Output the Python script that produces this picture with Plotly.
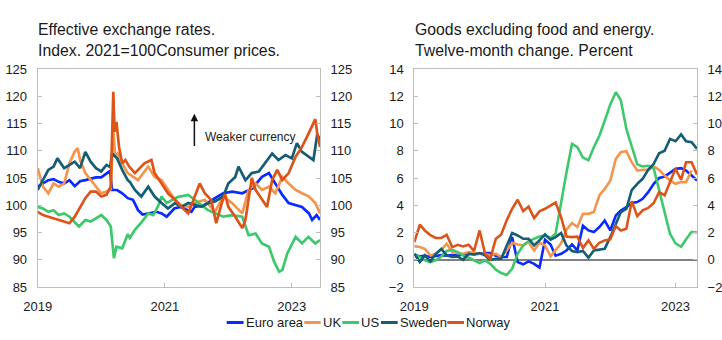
import pandas as pd
import plotly.graph_objects as go

# ---------------- Left panel: effective exchange rates (decimal year -> index) ----------
euro_t = [2019.0, 2019.083, 2019.167, 2019.25, 2019.33, 2019.417, 2019.5, 2019.583, 2019.667, 2019.75,
          2019.833, 2019.917, 2020.0, 2020.083, 2020.14, 2020.17, 2020.25, 2020.33, 2020.417, 2020.5,
          2020.58, 2020.65, 2020.74, 2020.87, 2020.95, 2021.03, 2021.15, 2021.25, 2021.36, 2021.42,
          2021.47, 2021.62, 2021.79, 2021.92, 2022.06, 2022.22, 2022.38, 2022.53, 2022.64, 2022.74,
          2022.85, 2022.95, 2023.06, 2023.16, 2023.27, 2023.32, 2023.39, 2023.445]
euro_v = [103.4, 104.0, 104.6, 104.8, 104.3, 104.0, 104.6, 103.5, 104.4, 104.6,
          104.8, 105.1, 105.1, 105.9, 106.3, 102.8, 102.8, 102.2, 101.3, 101.0,
          99.1, 98.3, 98.5, 98.8, 98.5, 97.9, 99.4, 99.7, 99.1, 98.8,
          99.7, 100.0, 101.3, 102.2, 102.5, 102.2, 103.1, 105.2, 105.9, 104.0,
          101.9, 100.4, 100.0, 99.7, 98.5, 97.3, 98.2, 97.3]

uk_t = [2019.0, 2019.083, 2019.167, 2019.25, 2019.33, 2019.417, 2019.5, 2019.58, 2019.63, 2019.667,
        2019.75, 2019.833, 2019.917, 2020.0, 2020.083, 2020.15, 2020.19, 2020.22, 2020.26, 2020.33,
        2020.417, 2020.58, 2020.74, 2020.84, 2020.95, 2021.05, 2021.16, 2021.26, 2021.37, 2021.47,
        2021.63, 2021.79, 2021.92, 2022.06, 2022.22, 2022.32, 2022.43, 2022.53, 2022.64, 2022.74,
        2022.85, 2022.95, 2023.06, 2023.16, 2023.27, 2023.37, 2023.445]
uk_v = [106.8, 103.4, 102.2, 104.0, 103.4, 104.0, 107.7, 109.8, 110.5, 108.3,
        105.9, 104.6, 103.4, 102.2, 102.5, 103.0, 113.8, 108.9, 109.5, 107.7,
        105.9, 104.6, 107.1, 105.2, 104.6, 102.8, 101.0, 100.0, 99.7, 100.4,
        101.0, 98.8, 101.6, 100.4, 98.5, 102.8, 104.0, 102.8, 103.4, 102.2,
        105.2, 104.0, 102.8, 102.2, 101.6, 100.4, 98.5]

us_t = [2019.0, 2019.083, 2019.167, 2019.25, 2019.33, 2019.417, 2019.5, 2019.583, 2019.65, 2019.75,
        2019.833, 2019.917, 2020.0, 2020.083, 2020.15, 2020.2, 2020.24, 2020.33, 2020.417, 2020.45,
        2020.53, 2020.63, 2020.74, 2020.82, 2020.9, 2020.95, 2021.03, 2021.2, 2021.37, 2021.47,
        2021.68, 2021.92, 2022.06, 2022.22, 2022.32, 2022.43, 2022.53, 2022.64, 2022.72, 2022.8,
        2022.85, 2022.93, 2023.02, 2023.06, 2023.16, 2023.26, 2023.37, 2023.445]
us_v = [99.7, 99.4, 98.8, 99.1, 98.2, 98.5, 97.9, 97.0, 96.1, 97.3,
        97.0, 97.6, 98.2, 97.3, 96.1, 90.3, 92.4, 92.1, 94.7, 94.0,
        95.5, 96.8, 98.5, 98.2, 100.0, 101.6, 100.4, 101.5, 101.9, 101.0,
        99.1, 97.9, 98.2, 97.9, 94.5, 94.8, 93.0, 92.4, 89.7, 87.8,
        88.1, 91.2, 93.5, 94.2, 93.0, 94.2, 93.0, 93.6]

se_t = [2019.0, 2019.083, 2019.167, 2019.25, 2019.31, 2019.417, 2019.5, 2019.583, 2019.667, 2019.75,
        2019.833, 2019.917, 2020.0, 2020.083, 2020.14, 2020.17, 2020.25, 2020.33, 2020.417, 2020.45,
        2020.53, 2020.63, 2020.74, 2020.84, 2020.95, 2021.05, 2021.16, 2021.26, 2021.37, 2021.47,
        2021.58, 2021.68, 2021.79, 2021.92, 2022.0, 2022.11, 2022.16, 2022.27, 2022.37, 2022.48,
        2022.58, 2022.69, 2022.79, 2022.9, 2023.0, 2023.08, 2023.16, 2023.26, 2023.34, 2023.4,
        2023.445]
se_v = [102.8, 104.6, 106.5, 107.1, 108.6, 106.8, 107.4, 108.0, 106.8, 109.8,
        108.0, 106.8, 106.2, 107.4, 107.0, 109.5, 108.6, 106.5, 104.6, 104.3,
        102.8, 101.6, 103.4, 101.6, 100.4, 99.4, 100.4, 99.7, 100.4, 100.0,
        99.7, 100.4, 100.7, 101.6, 104.0, 105.2, 107.1, 104.6, 105.9, 106.2,
        107.7, 109.5, 108.3, 109.2, 108.6, 111.4, 109.8, 108.9, 108.3, 113.0,
        112.0]

no_t = [2019.0, 2019.083, 2019.167, 2019.25, 2019.33, 2019.417, 2019.5, 2019.583, 2019.667, 2019.75,
        2019.833, 2019.917, 2020.0, 2020.083, 2020.15, 2020.19, 2020.21, 2020.24, 2020.28, 2020.33,
        2020.38, 2020.44, 2020.53, 2020.68, 2020.79, 2020.84, 2020.95, 2021.05, 2021.16, 2021.26,
        2021.37, 2021.47, 2021.55, 2021.63, 2021.73, 2021.81, 2021.9, 2021.95, 2022.0, 2022.11,
        2022.22, 2022.27, 2022.37, 2022.43, 2022.53, 2022.61, 2022.69, 2022.77, 2022.85, 2022.95,
        2023.06, 2023.16, 2023.24, 2023.32, 2023.37, 2023.4, 2023.445]
no_v = [98.8, 98.2, 97.9, 97.6, 97.3, 97.0, 96.7, 97.9, 99.7, 101.3,
        102.5, 102.5, 101.6, 101.9, 103.4, 120.8, 113.5, 115.3, 110.7, 107.7,
        108.3, 107.1, 105.9, 107.7, 108.3, 105.9, 104.0, 102.2, 101.0, 99.7,
        98.5, 101.6, 104.0, 102.2, 101.0, 96.7, 100.5, 102.0, 99.7, 97.9,
        95.8, 97.3, 105.0, 102.8, 101.0, 99.7, 104.6, 106.5, 104.6, 105.9,
        108.9, 110.7, 112.6, 114.4, 115.8, 113.2, 110.7]

# ---------------- Right panel: goods excl. food & energy, 12-month change (monthly) -----
cpi_euro = [0.39, 0.24, 0.3, 0.2, 0.27, 0.34, 0.3, 0.35, 0.3, 0.4, 0.44, 0.4,
            0.44, 0.5, 0.5, 0.3, 0.2, 0.2, 1.66, -0.17, -0.34, -0.12, -0.3, -0.58,
            1.47, 1.12, 0.3, 0.44, 0.68, 1.12, 0.68, 2.5, 2.15, 2.03, 2.4, 2.88,
            2.15, 3.25, 3.62, 3.86, 4.16, 4.23, 4.47, 4.96, 5.57, 6.0, 6.1, 6.36,
            6.67, 6.72, 6.55, 6.18, 5.82]
cpi_uk = [1.0, 0.93, 0.8, 0.32, 0.44, 0.73, 1.17, 0.56, 0.49, 0.44, 0.56, 0.49,
          0.44, 0.44, 0.32, 0.44, 0.2, 0.68, 1.25, 1.12, 1.05, 1.3, 0.68, 1.25,
          1.05, 0.25, 0.68, 1.2, 2.2, 2.7, 2.4, 3.37, 3.37, 3.5, 4.72, 5.2,
          5.8, 7.4, 7.9, 7.97, 7.16, 6.55, 6.6, 6.6, 6.85, 6.6, 6.18, 5.82,
          5.57, 5.7, 5.7, 6.55]
cpi_us = [0.39, 0.2, -0.05, -0.17, -0.05, 0.24, 0.64, 0.73, 0.56, 0.3, 0.15, -0.05,
          -0.24, -0.05, -0.3, -0.73, -0.98, -1.12, -0.66, 0.44, 1.05, 1.37, 1.54, 1.71,
          1.78, 1.6, 1.9, 4.3, 6.4, 8.5, 8.26, 7.5, 7.3, 8.26, 9.1, 10.2,
          11.4, 12.3, 11.7, 9.6, 8.3, 7.0, 6.85, 6.9, 6.7, 5.1, 3.4, 1.9,
          1.2, 0.95, 1.5, 2.05, 2.0]
cpi_se = [0.44, -0.17, 0.32, -0.12, 0.44, 0.8, 0.32, 0.2, 0.24, 0.0, 0.44, 0.39,
          0.49, 0.32, 0.0, 0.07, 0.07, 0.98, 1.96, 1.78, 1.54, 1.54, 1.05, 1.42,
          1.86, 1.47, 1.66, 1.96, 1.05, 0.64, 0.56, 0.64, 0.15, 0.68, 0.76, 0.8,
          1.66, 2.7, 3.5, 3.74, 5.1, 5.57, 5.94, 6.6, 7.04, 7.82, 8.0, 8.87,
          8.7, 9.2, 8.7, 8.63, 8.14]
cpi_no = [1.3, 2.57, 2.15, 1.8, 1.6, 1.6, 1.83, 0.93, 1.1, 0.98, 1.1, 0.64,
          2.15, 0.44, 0.07, 1.54, 1.86, 2.9, 3.74, 4.4, 3.57, 3.9, 3.06, 3.55,
          3.74, 4.0, 4.2, 3.13, 1.71, 1.66, 1.7, 0.86, 1.42, 0.8, 1.25, 1.42,
          1.5, 2.47, 2.15, 2.27, 4.3, 3.2, 3.62, 3.8, 4.16, 4.96, 4.72, 5.7,
          6.67, 5.87, 7.16, 7.16, 6.26]

series_names = ["Euro area", "UK", "US", "Sweden", "Norway"]
colors = ["#0A2BFF", "#F4954E", "#3EC86C", "#135E74", "#DC5419"]

left_y_ticks = [85, 90, 95, 100, 105, 110, 115, 120, 125]
right_y_ticks = [-2, 0, 2, 4, 6, 8, 10, 12, 14]
x_ticks = ["2019-01-01", "2021-01-01", "2023-01-01"]
x_tick_text = ["2019", "2021", "2023"]

W, H = 722, 340
FONT = "Liberation Sans, Arial, sans-serif"
AXIS_GREY = "#BDBDBD"
TXT = "#1a1a1a"


def to_dates(ts):
    base = pd.Timestamp("2019-01-01")
    return [base + pd.Timedelta(days=(t - 2019.0) * 365.25) for t in ts]


months = pd.date_range("2019-01-01", periods=53, freq="MS")

fig = go.Figure()

# last series drawn on the right-hand overlay axis (identical range) so that axis is shown
left_axes = ["y", "y", "y", "y", "y3"]
right_axes = ["y2", "y2", "y2", "y2", "y4"]

left_data = [(euro_t, euro_v), (uk_t, uk_v), (us_t, us_v), (se_t, se_v), (no_t, no_v)]
for (t, v), name, c, ya in zip(left_data, series_names, colors, left_axes):
    fig.add_trace(go.Scatter(x=to_dates(t), y=v, mode="lines", name=name,
                             line=dict(color=c, width=2.7), xaxis="x", yaxis=ya,
                             showlegend=False))

right_data = [cpi_euro, cpi_uk, cpi_us, cpi_se, cpi_no]
for v, name, c, ya in zip(right_data, series_names, colors, right_axes):
    fig.add_trace(go.Scatter(x=months[:len(v)], y=v, mode="lines", name=name,
                             line=dict(color=c, width=2.6), xaxis="x2", yaxis=ya,
                             showlegend=False))


def px_x(p):
    return p / W


def px_y(p):
    return 1 - p / H


xl = (37.7, 320.0)
xr = (414.3, 697.0)
ytop, ybot = 69.0, 287.0
ydom = [px_y(ybot), px_y(ytop)]

common_x = dict(type="date", tickvals=x_ticks, ticktext=x_tick_text, showgrid=False,
                showline=True, linecolor=AXIS_GREY, linewidth=1, mirror=True,
                ticks="inside", ticklen=4, tickcolor=AXIS_GREY, zeroline=False,
                automargin=False,
                tickfont=dict(family=FONT, size=13, color=TXT), ticklabelstandoff=7)
common_y = dict(showgrid=False, showline=True, linecolor=AXIS_GREY, linewidth=1,
                ticks="inside", ticklen=4, tickcolor=AXIS_GREY, automargin=False,
                tickfont=dict(family=FONT, size=13, color=TXT), ticklabelstandoff=7)

fig.update_layout(
    width=W, height=H, margin=dict(l=0, r=0, t=0, b=0, autoexpand=False),
    paper_bgcolor="white", plot_bgcolor="white", showlegend=False,
    font=dict(family=FONT, color=TXT),
    xaxis=dict(domain=[px_x(xl[0]), px_x(xl[1])], range=["2019-01-01", "2023-06-12"],
               anchor="y", **common_x),
    xaxis2=dict(domain=[px_x(xr[0]), px_x(xr[1])], range=["2019-01-01", "2023-05-01"],
                anchor="y2", **common_x),
    yaxis=dict(domain=ydom, range=[85, 125], tickvals=left_y_ticks, anchor="x",
               side="left", zeroline=False, **common_y),
    yaxis3=dict(range=[85, 125], tickvals=left_y_ticks, anchor="x", overlaying="y",
                side="right", zeroline=False, **common_y),
    yaxis2=dict(domain=ydom, range=[-2, 14], tickvals=right_y_ticks, anchor="x2",
                side="left", zeroline=True, zerolinecolor="#808080", zerolinewidth=1.5,
                **common_y),
    yaxis4=dict(range=[-2, 14], tickvals=right_y_ticks, anchor="x2", overlaying="y2",
                side="right", zeroline=False, **common_y),
)

# Panel titles
fig.add_annotation(text="Effective exchange rates.<br>Index. 2021=100Consumer prices.",
                   xref="paper", yref="paper", x=px_x(36), y=px_y(19),
                   xanchor="left", yanchor="top", align="left", showarrow=False,
                   font=dict(family=FONT, size=15.8, color=TXT))
fig.add_annotation(text="Goods excluding food and energy.<br>Twelve-month change. Percent",
                   xref="paper", yref="paper", x=px_x(412.5), y=px_y(19),
                   xanchor="left", yanchor="top", align="left", showarrow=False,
                   font=dict(family=FONT, size=15.8, color=TXT))

# Weaker currency arrow
fig.add_annotation(x=to_dates([2021.466])[0], y=116.8, ax=to_dates([2021.466])[0], ay=110.6,
                   xref="x", yref="y", axref="x", ayref="y", text="", showarrow=True,
                   arrowhead=2, arrowsize=1, arrowwidth=1.5, arrowcolor="#111")
fig.add_annotation(x=to_dates([2021.6])[0], y=112.6, xref="x", yref="y", text="Weaker currency",
                   showarrow=False, xanchor="left", yanchor="middle",
                   font=dict(family=FONT, size=12, color=TXT))

# Custom compact legend
leg_y = px_y(322.5)
leg_items = [(226.7, 243.5, 245), (304.3, 320.7, 321.5), (342.3, 359.0, 359.8),
             (381.0, 397.7, 398.5), (447.3, 464.0, 464.8)]
for (x0, x1, xt), name, c in zip(leg_items, series_names, colors):
    fig.add_shape(type="line", xref="paper", yref="paper", x0=px_x(x0), x1=px_x(x1),
                  y0=leg_y, y1=leg_y, line=dict(color=c, width=3))
    fig.add_annotation(text=name, xref="paper", yref="paper", x=px_x(xt), y=leg_y,
                       xanchor="left", yanchor="middle", showarrow=False,
                       font=dict(family=FONT, size=13, color=TXT), borderpad=0)

fig.write_html("out.html")
